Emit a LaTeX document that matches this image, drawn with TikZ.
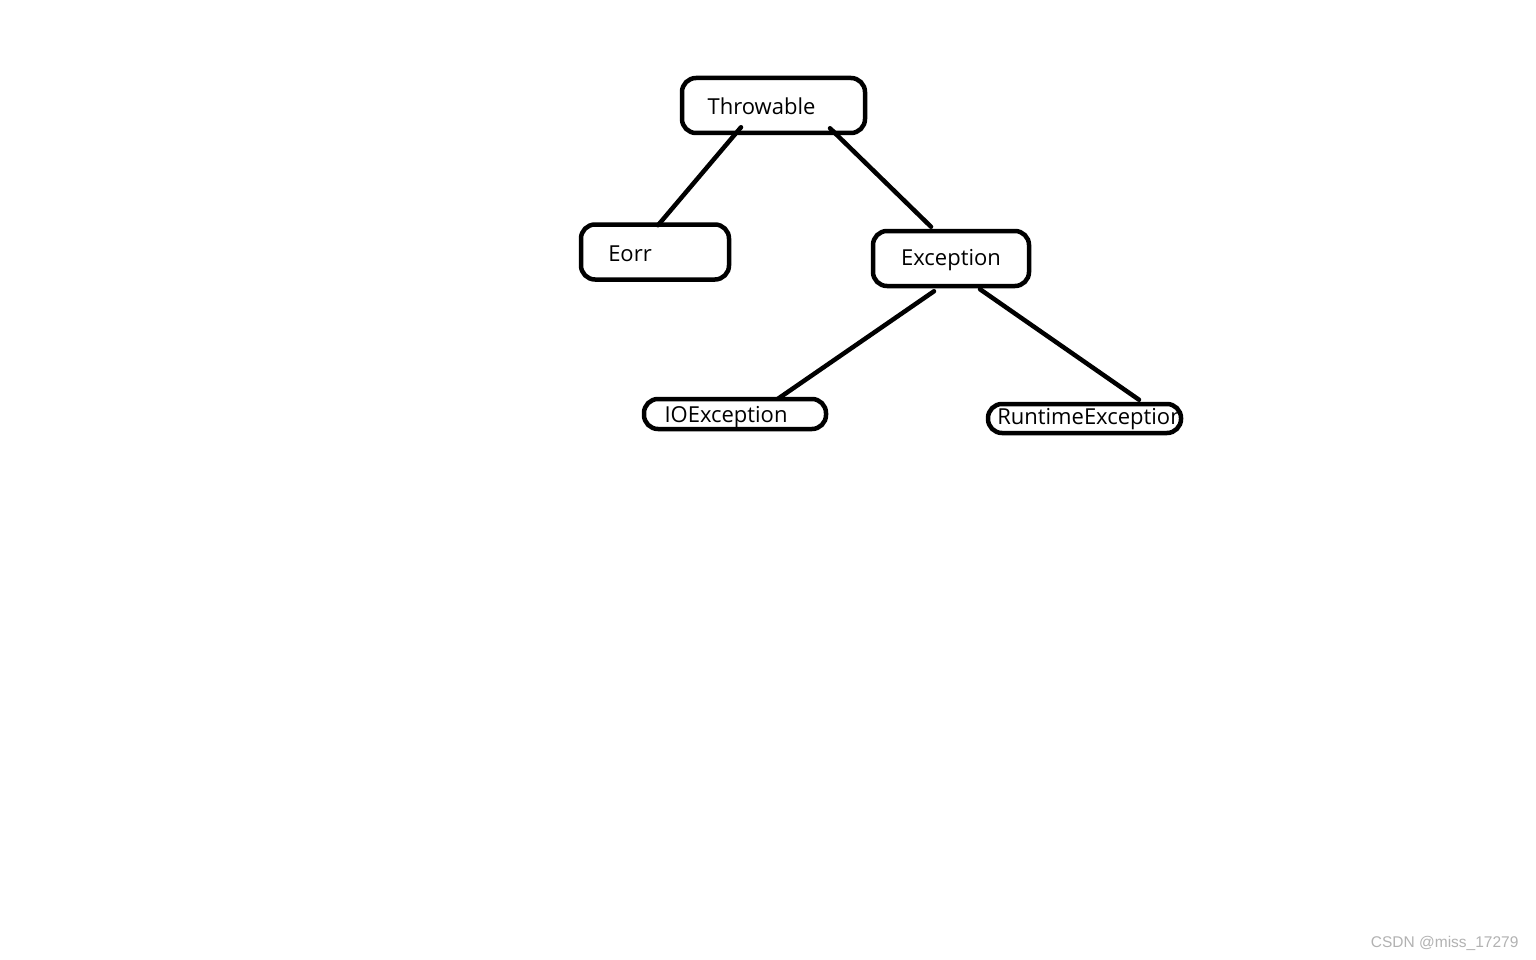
\documentclass[tikz,border=0pt]{standalone}
\usepackage{fontspec}
\setmainfont{Open Sans}
\newfontfamily\marquefont{Liberation Sans}
\usetikzlibrary{calc}

\tikzset{
  boite/.style={draw, line width=4.5pt, rounded corners=14pt, inner sep=0pt},
  lien/.style={line width=4.5pt, line cap=round}
}

\begin{document}
\begin{tikzpicture}[x=1pt, y=-1pt, font=\fontsize{22}{26}\selectfont]

\useasboundingbox[fill=white] (0,0) rectangle (1536,960);

% Boites
\node[boite, minimum width=183pt, minimum height=55pt,
      label={[xshift=-12pt, yshift=-1pt]center:Throwable}] (thr) at (773.5,105.5) {};
\node[boite, minimum width=148pt, minimum height=55pt,
      label={[xshift=-25pt, yshift=-2pt]center:Eorr}] (eorr) at (655,252) {};
\node[boite, minimum width=156pt, minimum height=55pt,
      label={[xshift=0pt, yshift=-2pt]center:Exception}] (exc) at (951,258.5) {};
\node[boite, minimum width=182pt, minimum height=30pt,
      label={[xshift=-9pt, yshift=-3pt]center:IOException}] (io) at (735,414) {};
\node[boite, minimum width=193pt, minimum height=29pt,
      label={[xshift=6pt, yshift=-1pt]center:RuntimeException}] (rt) at (1084.5,418.5) {};

% Liens
\draw[lien] ($(thr.south)+(-32.5,-8)$) -- ($(eorr.north)+(3,3)$);
\draw[lien] ($(thr.south)+(56.5,-7)$) -- ($(exc.north)+(-20,-2)$);
\draw[lien] ($(exc.south)+(-17,3)$) -- ($(io.north)+(43,2)$);
\draw[lien] ($(exc.south)+(29,1)$) -- ($(rt.north)+(54.5,-2)$);

% Filigrane
\node[anchor=east, text=black!30, font=\marquefont\fontsize{15.5}{18}\selectfont]
  (marque) at (1522,943) {CSDN @miss\_17279};

\end{tikzpicture}
\end{document}
